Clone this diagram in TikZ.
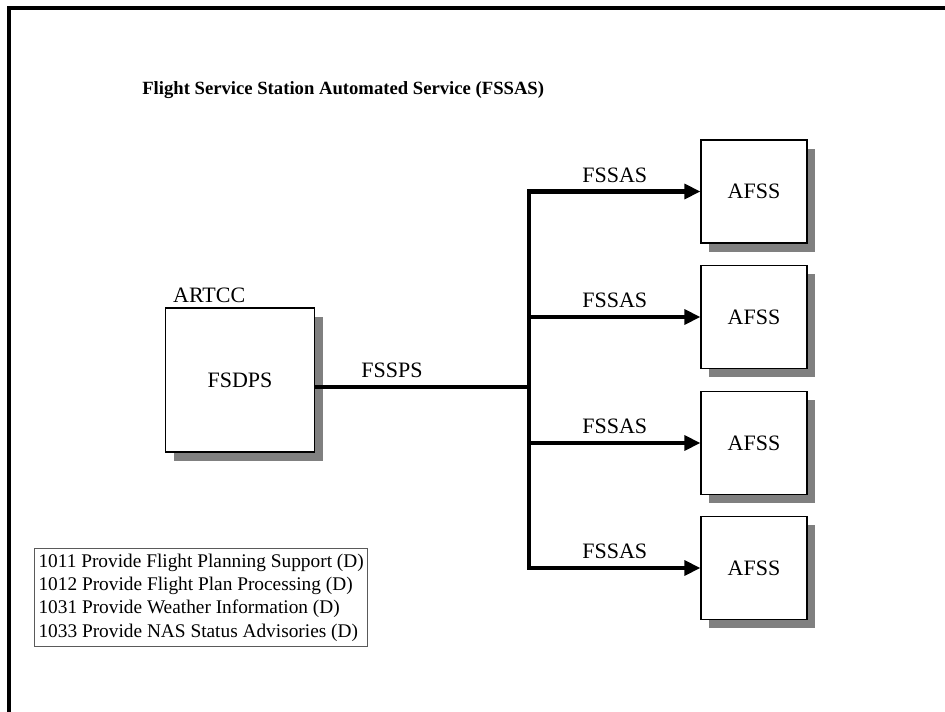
\documentclass[tikz,border=0pt]{standalone}
\usepackage{fontspec}
\setmainfont{Liberation Serif}
\usetikzlibrary{arrows.meta,positioning,shadows}
\definecolor{Ink}{HTML}{000000}
\definecolor{Shade}{HTML}{808080}
\definecolor{Rule}{HTML}{5A5A5A}
\tikzset{
  station/.style={
    draw=Ink, line width=0.8pt, fill=white,
    drop shadow={shadow xshift=6pt, shadow yshift=-6.5pt, fill=Shade, opacity=1},
    font=\fontsize{16.5}{19}\selectfont
  },
  tag/.style={font=\fontsize{16.5}{19}\selectfont, inner sep=2pt},
  heading/.style={font=\fontsize{14}{17}\selectfont\bfseries, inner sep=0pt},
  legend/.style={
    draw=Rule, line width=0.8pt, fill=white, align=left,
    font=\fontsize{14.5}{17.5}\selectfont, inner xsep=3pt, inner ysep=4pt
  },
  frame/.style={line width=3pt, draw=Ink},
  wire/.style={line width=3.6pt, draw=Ink},
  feed/.style={-{Triangle[length=12pt,width=11pt]}, line width=3.6pt, draw=Ink}
}
\begin{document}
\begin{tikzpicture}[x=0.75pt,y=-0.75pt]
  \useasboundingbox (0,0) rectangle (945,712);
  \draw[frame] (9,712) -- (9,8) -- (945,8);
  \node[heading, anchor=west] (head) at (142,90) {Flight Service Station Automated Service (FSSAS)};
  % ARTCC side
  \node[station, minimum width=111.75pt, minimum height=108pt] (fsdps) at (240,380) {FSDPS};
  \node[tag, anchor=south west] (artcc) at ([xshift=4pt,yshift=1pt]fsdps.north west) {ARTCC};
  % AFSS side
  \foreach \y [count=\i] in {191.5,317,443,568}
    \node[station, minimum width=79.5pt, minimum height=77.25pt] (afss\i) at (754,\y) {AFSS};
  \coordinate (hub) at (529,387);
  \draw[wire] (hub -| fsdps.east) -- node[tag, pos=0.36, above=3pt] (fssps) {FSSPS} (hub);
  \draw[wire, line cap=rect] (afss1.west -| hub) -- (afss4.west -| hub);
  \foreach \i in {1,...,4}
    \draw[feed] (afss\i.west -| hub) -- node[tag, above=3pt] (fssas\i) {FSSAS} (afss\i.west);
  \node[legend, anchor=south west] (functions) at (34,647) {1011 Provide Flight Planning Support (D)\\
    1012 Provide Flight Plan Processing (D)\\
    1031 Provide Weather Information (D)\\
    1033 Provide NAS Status Advisories (D)};
\end{tikzpicture}
\end{document}
